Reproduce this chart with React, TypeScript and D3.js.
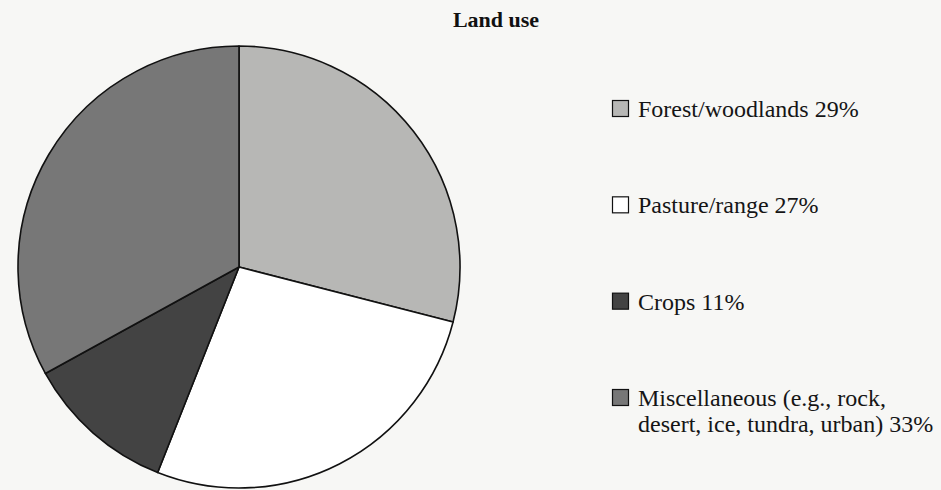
import { useEffect, useRef } from 'react';
import * as d3 from 'd3';

const categories = ['Forest/woodlands', 'Pasture/range', 'Crops', 'Miscellaneous'];
const shares = [29, 27, 11, 33];
const legendLines = [
  ['Forest/woodlands 29%'],
  ['Pasture/range 27%'],
  ['Crops 11%'],
  ['Miscellaneous (e.g., rock,', 'desert, ice, tundra, urban) 33%'],
];
const fills = ['#b7b7b5', '#ffffff', '#434343', '#777777'];

export default function App() {
  const svgRef = useRef<SVGSVGElement>(null);

  useEffect(() => {
    const width = 941;
    const height = 490;
    const radius = 221;
    const cx = 239;
    const cy = 267;
    const font = '"Liberation Serif", "Times New Roman", serif';

    const svg = d3.select(svgRef.current)
      .attr('width', width)
      .attr('height', height);
    svg.selectAll('*').remove();

    svg.append('rect')
      .attr('width', width)
      .attr('height', height)
      .attr('fill', '#f7f7f5');

    svg.append('text')
      .attr('x', 496)
      .attr('y', 27)
      .attr('text-anchor', 'middle')
      .attr('font-family', font)
      .attr('font-weight', 'bold')
      .attr('font-size', 22)
      .attr('fill', '#111')
      .text('Land use');

    const data = categories.map((c, i) => ({ name: c, value: shares[i] }));
    const color = d3.scaleOrdinal<string, string>().domain(categories).range(fills);

    const pie = d3.pie<{ name: string; value: number }>()
      .sort(null)
      .value(d => d.value);
    const arc = d3.arc<d3.PieArcDatum<{ name: string; value: number }>>()
      .innerRadius(0)
      .outerRadius(radius);

    const g = svg.append('g').attr('transform', `translate(${cx},${cy})`);
    g.selectAll('path')
      .data(pie(data))
      .enter()
      .append('path')
      .attr('d', arc)
      .attr('fill', d => color(d.data.name))
      .attr('stroke', '#111')
      .attr('stroke-width', 1.6)
      .attr('stroke-linejoin', 'round');

    const rowY = d3.scaleLinear().domain([0, 3]).range([117, 406]);

    const legend = svg.append('g');
    const items = legend.selectAll('.legend-item')
      .data(categories)
      .enter()
      .append('g')
      .attr('class', 'legend-item')
      .attr('transform', (d, i) => `translate(612,${rowY(i)})`);

    items.append('rect')
      .attr('x', 0.5)
      .attr('y', -16.5)
      .attr('width', 16)
      .attr('height', 16)
      .attr('fill', d => color(d))
      .attr('stroke', '#111')
      .attr('stroke-width', 1.2);

    items.each(function (d, i) {
      const t = d3.select(this).append('text')
        .attr('font-family', font)
        .attr('font-size', 24)
        .attr('fill', '#151515');
      legendLines[i].forEach((line, j) => {
        t.append('tspan')
          .attr('x', 26)
          .attr('y', j * 26)
          .text(line);
      });
    });
  }, []);

  return (
    <svg ref={svgRef} style={{ position: 'absolute', left: 0, top: 0, display: 'block' }}></svg>
  );
}
